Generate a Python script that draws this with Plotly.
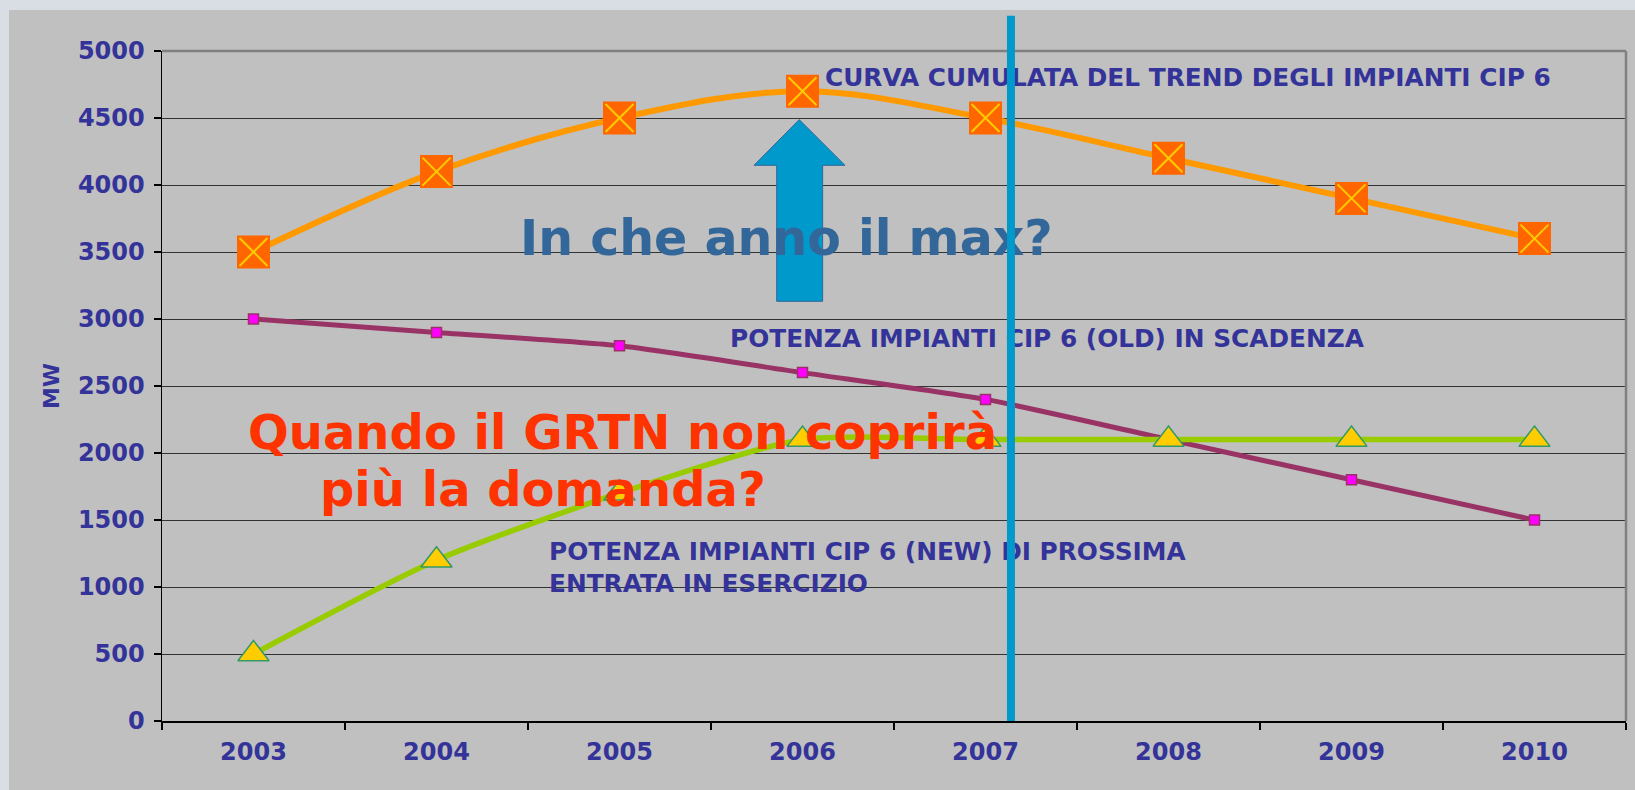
import plotly.graph_objects as go

# ---------------- data ----------------
years = ['2003', '2004', '2005', '2006', '2007', '2008', '2009', '2010']
cumulata = [3500, 4100, 4500, 4700, 4500, 4200, 3900, 3600]
old_scadenza = [3000, 2900, 2800, 2600, 2400, 2100, 1800, 1500]
new_entrata = [500, 1200, 1700, 2100, 2100, 2100, 2100, 2100]
y_ticks = [0, 500, 1000, 1500, 2000, 2500, 3000, 3500, 4000, 4500, 5000]

FONT = "DejaVu Sans"
NAVY = "#333399"

fig = go.Figure()

# old plants (purple)
fig.add_trace(go.Scatter(
    x=years, y=old_scadenza, mode='lines+markers',
    line=dict(color='#993366', width=5, shape='spline', smoothing=0.6),
    marker=dict(symbol='square', size=10, color='#FF00FF',
                line=dict(color='#993366', width=1.5)),
    showlegend=False, hoverinfo='skip'))

# new plants (green)
fig.add_trace(go.Scatter(
    x=years, y=new_entrata, mode='lines+markers',
    line=dict(color='#99CC00', width=5.5, shape='spline', smoothing=0.7),
    marker=dict(symbol='triangle-up', size=27, color='#FFCC00',
                line=dict(color='#339966', width=1.5)),
    showlegend=False, hoverinfo='skip'))

# cumulative (orange)
fig.add_trace(go.Scatter(
    x=years, y=cumulata, mode='lines+markers',
    line=dict(color='#FF9900', width=6, shape='spline', smoothing=1),
    marker=dict(symbol='square', size=33, color='#FF6600', line=dict(width=0)),
    showlegend=False, hoverinfo='skip'))
fig.add_trace(go.Scatter(
    x=years, y=cumulata, mode='markers',
    marker=dict(symbol='x-thin-open', size=28, color='#FFCC00',
                line=dict(color='#FFCC00', width=2)),
    showlegend=False, hoverinfo='skip'))

# ---------------- layout ----------------
L, R, T, B = 162, 9, 51, 69
W, H = 1635, 790
pw, ph = W - L - R, H - T - B

def px_x(p):
    return (p - L) / pw

def px_y(p):
    return (H - B - p) / ph

shapes = [
    # grey slide panel
    dict(type='rect', xref='paper', yref='paper', layer='below',
         x0=px_x(9), x1=px_x(1700), y0=px_y(900), y1=px_y(10),
         fillcolor='#C0C0C0', line=dict(width=0)),
    # grey top / right border of plot area
    dict(type='line', xref='paper', yref='paper', x0=0, x1=1, y0=1, y1=1,
         line=dict(color='#808080', width=2.5)),
    dict(type='line', xref='paper', yref='paper', x0=1, x1=1, y0=0, y1=1,
         line=dict(color='#808080', width=2.5)),
    # big blue up-arrow
    dict(type='path', xref='x', yref='y', layer='above',
         path='M 2.859 3132 L 2.859 4147 L 2.735 4147 L 2.982 4488 '
              'L 3.232 4147 L 3.110 4147 L 3.110 3132 Z',
         fillcolor='#0099CC', line=dict(color='#336699', width=1)),
]

ann_font = dict(family=FONT, size=24.8, color=NAVY, weight='bold')
annotations = [
    dict(text='CURVA CUMULATA DEL TREND DEGLI IMPIANTI CIP 6', x=3.112, y=4800,
         xref='x', yref='y', xanchor='left', yanchor='middle', showarrow=False,
         font=ann_font),
    dict(text='In che anno il max?', x=1.445, y=3602,
         xref='x', yref='y', xanchor='left', yanchor='middle', showarrow=False,
         font=dict(family=FONT, size=49, color='#336699', weight='bold')),
    dict(text='POTENZA IMPIANTI CIP 6 (OLD) IN SCADENZA', x=2.593, y=2856,
         xref='x', yref='y', xanchor='left', yanchor='middle', showarrow=False,
         font=ann_font),
    dict(text='Quando il GRTN non coprirà', x=-0.041, y=2160,
         xref='x', yref='y', xanchor='left', yanchor='middle', showarrow=False,
         font=dict(family=FONT, size=48, color='#FF3300', weight='bold')),
    dict(text='più la domanda?', x=0.352, y=1730,
         xref='x', yref='y', xanchor='left', yanchor='middle', showarrow=False,
         font=dict(family=FONT, size=48, color='#FF3300', weight='bold')),
    dict(text='POTENZA IMPIANTI CIP 6 (NEW) DI PROSSIMA<br>ENTRATA IN ESERCIZIO',
         x=1.604, y=1149, align='left',
         xref='x', yref='y', xanchor='left', yanchor='middle', showarrow=False,
         font=ann_font),
    # vertical blue line (drawn on top of texts)
    dict(text='', x=4.139, y=0, xref='x', yref='y',
         ax=4.139, ay=5274, axref='x', ayref='y',
         showarrow=True, arrowhead=0, arrowwidth=8, arrowcolor='#0099CC',
         standoff=0, startstandoff=0),
]

fig.update_layout(
    width=W, height=H,
    margin=dict(l=L, r=R, t=T, b=B, autoexpand=False),
    paper_bgcolor='#D9DEE4',
    plot_bgcolor='#C0C0C0',
    showlegend=False,
    shapes=shapes,
    annotations=annotations,
    xaxis=dict(
        type='category', range=[-0.5, 7.5], fixedrange=True,
        showgrid=False, zeroline=False,
        showline=True, linecolor='#000000', linewidth=2,
        ticks='outside', tickson='boundaries', ticklen=7, tickcolor='#000000',
        tickwidth=1.5, ticklabelstandoff=8,
        tickfont=dict(family=FONT, size=24, color=NAVY, weight='bold'),
        automargin=False,
    ),
    yaxis=dict(
        range=[0, 5000], tickvals=y_ticks, fixedrange=True,
        showgrid=True, gridcolor='#333333', gridwidth=1,
        zeroline=False,
        showline=True, linecolor='#000000', linewidth=1.5,
        ticks='outside', ticklen=7, tickcolor='#000000', tickwidth=1.5,
        ticklabelstandoff=4,
        tickfont=dict(family=FONT, size=24, color=NAVY, weight='bold'),
        title=dict(text='MW', standoff=12,
                   font=dict(family=FONT, size=22, color=NAVY, weight='bold')),
        automargin=False,
    ),
)

fig.write_html(
    "out.html",
    config={'displayModeBar': False, 'staticPlot': True},
    post_script="document.body.style.margin='0px';document.body.style.overflow='hidden';",
)
